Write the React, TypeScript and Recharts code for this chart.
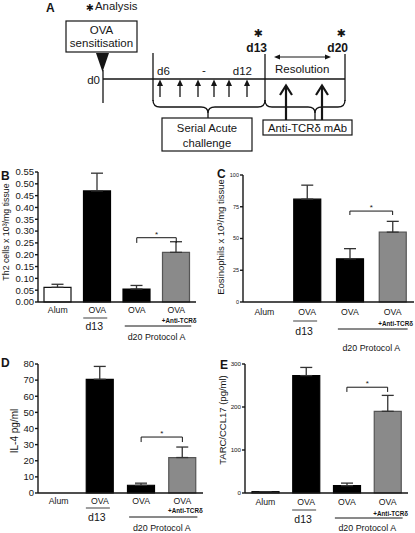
import React from 'react';
import { BarChart, Bar, XAxis, YAxis, ErrorBar, Cell, ReferenceLine } from 'recharts';

const FONT = '"Liberation Sans", Arial, Helvetica, sans-serif';
const STAR_FONT = '"DejaVu Sans", sans-serif';
const INK = '#151515';

// groups on the x axis
const groupKeys = ['alum', 'ova13', 'ova20', 'ova20anti'];
const groupNames = ['Alum', 'OVA', 'OVA', 'OVA'];
const timeLabels = ['d13', 'd20 Protocol A'];
const treatLabel = '+Anti-TCRδ';

// B - Th2 cells
const th2Mean = [0.062, 0.47, 0.055, 0.21];
const th2Sem = [0.013, 0.075, 0.015, 0.045];
const th2Ticks = [0, 0.05, 0.1, 0.15, 0.2, 0.25, 0.3, 0.35, 0.4, 0.45, 0.5, 0.55];
const th2Sig = [0.272, 0.25];

// C - eosinophils
const eosMean = [0, 81, 34, 55];
const eosSem = [0, 11, 8, 8.5];
const eosTicks = [0, 25, 50, 75, 100];
const eosSig = [71.6, 68.5];

// D - IL-4
const il4Mean = [0, 70.5, 4.8, 22];
const il4Sem = [0, 8, 1.3, 6.5];
const il4Ticks = [0, 10, 20, 30, 40, 50, 60, 70, 80];
const il4Sig = [34.7, 31.6];

// E - TARC/CCL17
const tarcMean = [3, 273, 17, 190];
const tarcSem = [0, 19, 6, 37];
const tarcTicks = [0, 100, 200, 300];
const tarcSig = [246, 235];

const barFill = ['#ffffff', '#000000', '#000000', '#8a8a8a'];
const barEdge = ['#111111', '#000000', '#000000', '#555555'];

interface Lay { name: number; gray: number; d13: number; black: number; anti: number; d20: number; }

const GroupTick = (props: any) => {
  const { x, y, index, band, lay } = props as { x: number; y: number; index: number; band: number; lay: Lay };
  return (
    <g fontFamily={FONT} fill={INK}>
      <text x={x} y={y + lay.name} textAnchor="middle" fontSize={8.7}>{groupNames[index]}</text>
      {index === 1 && (
        <>
          <line x1={x - 14} x2={x + 10} y1={y + lay.gray} y2={y + lay.gray} stroke="#888" strokeWidth={1.6} />
          <text x={x - 3} y={y + lay.d13} textAnchor="middle" fontSize={10.5}>{timeLabels[0]}</text>
        </>
      )}
      {index === 2 && (
        <>
          <line x1={x - 12} x2={x + band + 15} y1={y + lay.black} y2={y + lay.black} stroke={INK} strokeWidth={1} />
          <text x={x + band / 2} y={y + lay.d20} textAnchor="middle" fontSize={8.9}>{timeLabels[1]}</text>
        </>
      )}
      {index === 3 && (
        <text x={x + 3} y={y + lay.anti} textAnchor="middle" fontSize={6.3} fontWeight="bold">{treatLabel}</text>
      )}
    </g>
  );
};

// rotated axis title in page coordinates
const YTitle = ({ text, x, y, fs }: { text: string; x: number; y: number; fs: number }) => (
  <text x={x} y={y} transform={`rotate(-90 ${x} ${y})`} textAnchor="middle" dominantBaseline="central"
    fontSize={fs} fontFamily={FONT} fill={INK}>{text}</text>
);

interface PanelProps {
  left: number; top: number; width: number; height: number;
  plotTop: number; plotH: number; yw: number; right: number;
  mean: number[]; sem: number[]; ticks: number[]; sig: number[];
  fmt: (v: number) => string; tickFont: number;
  lay: Lay;
}

const Panel: React.FC<PanelProps> = (p) => {
  const data = groupKeys.map((k, i) => ({ key: k, v: p.mean[i], err: [0, p.sem[i]] }));
  const band = (p.width - p.yw - p.right) / groupKeys.length;
  const axisStyle = { stroke: INK, strokeWidth: 1.4 };
  return (
    <div style={{ position: 'absolute', left: p.left, top: p.top, width: p.width, height: p.height }}>
      <BarChart width={p.width} height={p.height} data={data} barSize={27}
        margin={{ top: p.plotTop, right: p.right, left: 0, bottom: 0 }}>
        <XAxis dataKey="key" height={p.height - p.plotTop - p.plotH} interval={0}
          tickLine={false} tickSize={0} tickMargin={0} axisLine={axisStyle}
          tick={<GroupTick band={band} lay={p.lay} />} />
        <YAxis width={p.yw} domain={[0, p.ticks[p.ticks.length - 1]]} ticks={p.ticks} interval={0}
          tickFormatter={p.fmt} tickSize={3} tickMargin={1} axisLine={axisStyle} tickLine={axisStyle}
          tick={{ fontSize: p.tickFont, fill: INK, fontFamily: FONT }} />
        <Bar dataKey="v" isAnimationActive={false} strokeWidth={1.2}>
          {data.map((d, i) => <Cell key={d.key} fill={barFill[i]} stroke={barEdge[i]} />)}
          <ErrorBar dataKey="err" width={6} stroke="#333" strokeWidth={1.3} isAnimationActive={false} />
        </Bar>
        <ReferenceLine segment={[{ x: 'ova20', y: p.sig[0] }, { x: 'ova20anti', y: p.sig[0] }]}
          stroke={INK} strokeWidth={1}
          label={{ value: '*', position: 'top', offset: 1, fontSize: 8, fill: INK, fontFamily: FONT }} />
        <ReferenceLine segment={[{ x: 'ova20', y: p.sig[0] }, { x: 'ova20', y: p.sig[1] }]} stroke={INK} strokeWidth={1} />
        <ReferenceLine segment={[{ x: 'ova20anti', y: p.sig[0] }, { x: 'ova20anti', y: p.sig[1] }]} stroke={INK} strokeWidth={1} />
      </BarChart>
    </div>
  );
};

function Timeline() {
  const smallArrows = [160, 180, 198, 214, 229, 247];
  const bigArrows = [286, 322];
  const lw = 1.3;
  return (
    <g fontFamily={FONT} fill={INK}>
      <text x={46} y={12} fontSize={12} fontWeight="bold">A</text>
      <text x={86} y={10.5} fontSize={9.5} fontFamily={STAR_FONT}>✱</text>
      <text x={95} y={10} fontSize={11.4}>Analysis</text>

      <rect x={66} y={21} width={71} height={31} fill="#fff" stroke={INK} strokeWidth={1.2} />
      <text x={101.5} y={34} textAnchor="middle" fontSize={11.5}>OVA</text>
      <text x={101.5} y={47} textAnchor="middle" fontSize={11.5}>sensitisation</text>
      <polygon points="96,53 109,53 102.5,72" />
      <line x1={103} y1={70} x2={103} y2={103} stroke={INK} strokeWidth={lw} />
      <line x1={103} y1={79} x2={345} y2={79} stroke={INK} strokeWidth={lw} />
      <text x={100} y={84} textAnchor="end" fontSize={11.5}>d0</text>

      <line x1={153} y1={53} x2={153} y2={101} stroke={INK} strokeWidth={lw} />
      <line x1={265} y1={54} x2={265} y2={101} stroke={INK} strokeWidth={lw} />
      <line x1={345} y1={54} x2={345} y2={101} stroke={INK} strokeWidth={lw} />
      <text x={157} y={75} fontSize={11.5}>d6</text>
      <text x={204} y={74} textAnchor="middle" fontSize={11.5}>-</text>
      <text x={252} y={75} textAnchor="end" fontSize={11.5}>d12</text>

      <text x={258} y={37} textAnchor="middle" fontSize={11} fontFamily={STAR_FONT}>✱</text>
      <text x={267} y={52} textAnchor="end" fontSize={12} fontWeight="bold">d13</text>
      <text x={341} y={37} textAnchor="middle" fontSize={11} fontFamily={STAR_FONT}>✱</text>
      <text x={348} y={52} textAnchor="end" fontSize={12} fontWeight="bold">d20</text>

      <line x1={278} y1={57} x2={327} y2={57} stroke={INK} strokeWidth={1} />
      <polygon points="274,57 280,54.5 280,59.5" />
      <polygon points="331,57 325,54.5 325,59.5" />
      <text x={275} y={73} fontSize={11.5}>Resolution</text>

      {smallArrows.map((x) => (
        <g key={x}>
          <line x1={x} y1={97} x2={x} y2={85} stroke={INK} strokeWidth={1.3} />
          <polygon points={`${x - 3},86 ${x + 3},86 ${x},79.5`} />
        </g>
      ))}
      {bigArrows.map((x) => (
        <g key={x} stroke={INK} strokeWidth={2.2} fill="none">
          <line x1={x} y1={120} x2={x} y2={86} />
          <polyline points={`${x - 6},95 ${x},85.5 ${x + 6},95`} />
        </g>
      ))}

      <g fill="none" stroke={INK} strokeWidth={lw}>
        <path d="M153,100 Q153,107 160,107 L201,107 Q208,107 208,113 L208,118" />
        <path d="M265,100 Q265,107 258,107 L215,107 Q208,107 208,113" />
        <path d="M265,100 Q265,107 272,107 L308,107 Q315,107 315,113 L315,120" />
        <path d="M345,100 Q345,107 338,107 L322,107 Q315,107 315,113" />
      </g>

      <rect x={162} y={118} width={90} height={33} fill="#fff" stroke={INK} strokeWidth={1.2} />
      <text x={207} y={132} textAnchor="middle" fontSize={11.3}>Serial Acute</text>
      <text x={207} y={147} textAnchor="middle" fontSize={11.3}>challenge</text>
      <rect x={263} y={120} width={89} height={15} fill="#fff" stroke={INK} strokeWidth={1.2} />
      <text x={307.5} y={131.5} textAnchor="middle" fontSize={11.3}>Anti-TCRδ mAb</text>
    </g>
  );
}

export default function App() {
  const f2 = (v: number) => v.toFixed(2);
  const f0 = (v: number) => String(v);
  return (
    <div style={{ position: 'absolute', left: 0, top: 0, width: 415, height: 533, background: '#fff', overflow: 'hidden' }}>
      <Panel left={0} top={162} width={200} height={188} plotTop={10} plotH={130} yw={38} right={4}
        mean={th2Mean} sem={th2Sem} ticks={th2Ticks} sig={th2Sig} fmt={f2} tickFont={9.5}
        lay={{ name: 11, gray: 16, d13: 28, black: 24, anti: 21, d20: 38 }} />
      <Panel left={205} top={165} width={210} height={188} plotTop={10} plotH={127} yw={38} right={1}
        mean={eosMean} sem={eosSem} ticks={eosTicks} sig={eosSig} fmt={f0} tickFont={5.5}
        lay={{ name: 13, gray: 19, d13: 33, black: 27, anti: 24, d20: 49 }} />
      <Panel left={0} top={354} width={205} height={179} plotTop={10} plotH={129} yw={38} right={2}
        mean={il4Mean} sem={il4Sem} ticks={il4Ticks} sig={il4Sig} fmt={f0} tickFont={9.5}
        lay={{ name: 11, gray: 15, d13: 28, black: 24, anti: 20, d20: 38 }} />
      <Panel left={205} top={354} width={210} height={179} plotTop={10} plotH={129} yw={40} right={7}
        mean={tarcMean} sem={tarcSem} ticks={tarcTicks} sig={tarcSig} fmt={f0} tickFont={6.2}
        lay={{ name: 12, gray: 17, d13: 30, black: 25, anti: 23, d20: 38 }} />
      <svg width={415} height={533} style={{ position: 'absolute', left: 0, top: 0, pointerEvents: 'none' }}>
        <Timeline />
        <YTitle text="Th2 cells x 10³/mg tissue" x={6} y={232} fs={8.8} />
        <YTitle text="Eosinophils x 10³/mg tissue" x={220} y={237} fs={9.5} />
        <YTitle text="IL-4 pg/ml" x={14} y={431} fs={10} />
        <YTitle text="TARC/CCL17 (pg/ml)" x={222} y={420} fs={9.5} />
        <g fontFamily={FONT} fill={INK} fontWeight="bold" fontSize={12}>
          <text x={1} y={180}>B</text>
          <text x={217} y={178}>C</text>
          <text x={1} y={367}>D</text>
          <text x={220} y={369}>E</text>
        </g>
      </svg>
    </div>
  );
}
